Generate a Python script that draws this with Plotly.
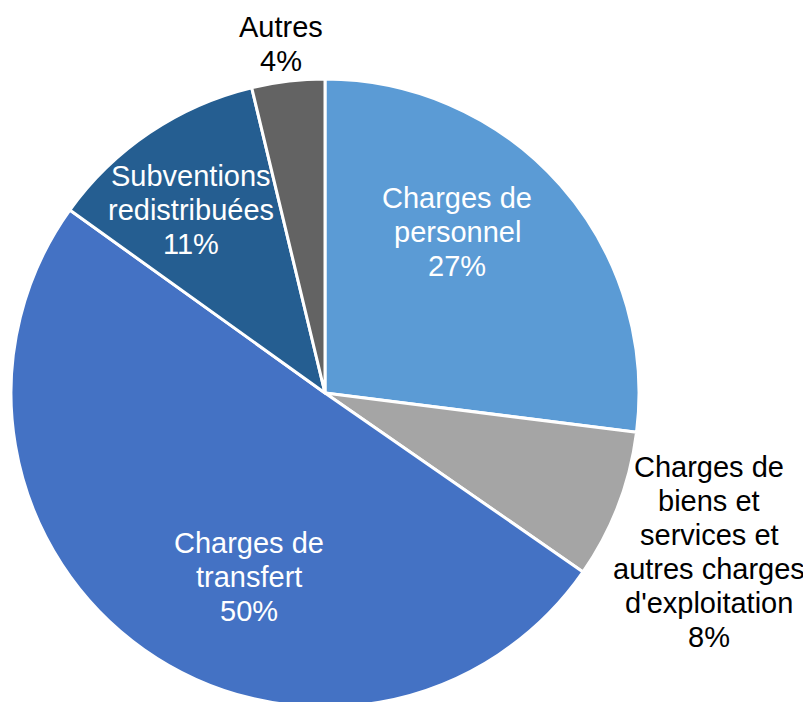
import plotly.graph_objects as go

categories = ["Charges de personnel",
              "Charges de biens et services et autres charges d'exploitation",
              "Charges de transfert",
              "Subventions redistribuées",
              "Autres"]
values = [27.0, 7.65, 50.25, 11.35, 3.75]
colors = ["#5B9BD5", "#A5A5A5", "#4472C4", "#255E91", "#636363"]

# label text lines (as shown in the chart)
label_lines = [
    ["Charges de", "personnel", "27%"],
    ["Charges de", "biens et", "services et", "autres charges", "d'exploitation", "8%"],
    ["Charges de", "transfert", "50%"],
    ["Subventions", "redistribuées", "11%"],
    ["Autres", "4%"],
]
label_colors = ["white", "black", "white", "white", "black"]
# label block anchor in page pixels (x centre, y of first line)
label_pos = [(457, 198), (709, 467), (249, 543), (191, 176), (281, 27)]
line_gap = 34

W, H = 811, 702
OFF = 8  # default page body margin

cx, cy, r = 325 - OFF, 393 - OFF, 314  # pie centre/radius in figure pixels

fig = go.Figure(go.Pie(
    labels=categories,
    values=values,
    sort=False,
    direction="clockwise",
    rotation=0,
    marker=dict(colors=colors, line=dict(color="white", width=3)),
    textinfo="none",
    hoverinfo="label+percent",
    domain=dict(x=[(cx - r) / W, (cx + r) / W],
                y=[(H - cy - r) / H, (H - cy + r) / H]),
    showlegend=False,
))

annotations = []
for lines, col, (px, py) in zip(label_lines, label_colors, label_pos):
    for i, t in enumerate(lines):
        annotations.append(dict(
            x=(px - OFF) / W, y=1 - (py - OFF + i * line_gap) / H,
            xref="paper", yref="paper",
            text=t, showarrow=False,
            xanchor="center", yanchor="middle",
            font=dict(family="Liberation Sans, Arial, sans-serif", size=29, color=col),
        ))

fig.update_layout(
    width=W, height=H,
    margin=dict(l=0, r=0, t=0, b=0),
    paper_bgcolor="white",
    plot_bgcolor="white",
    annotations=annotations,
)

fig.write_html("out.html")
